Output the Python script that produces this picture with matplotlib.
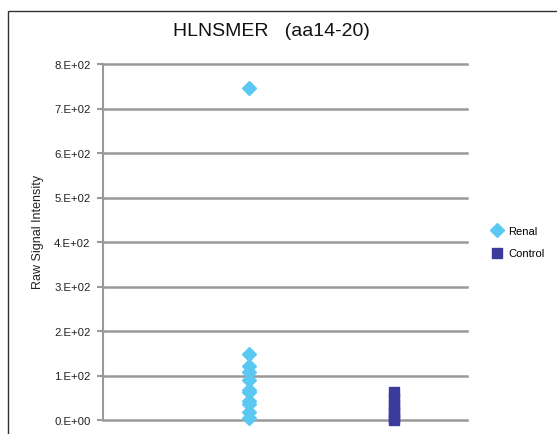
import matplotlib
matplotlib.use("Agg")
import matplotlib.pyplot as plt
from matplotlib.patches import Rectangle

plt.rcParams['font.family'] = ['Liberation Sans', 'DejaVu Sans']

title = "HLNSMER   (aa14-20)"
ylabel = "Raw Signal Intensity"
series_names = ["Renal", "Control"]
series_x = [1, 2]
renal_values = [745, 148, 122, 108, 90, 68, 62, 42, 35, 18, 5]
control_values = [62, 50, 35, 25, 15, 5, 0]
yticks = [0, 100, 200, 300, 400, 500, 600, 700, 800]
ytick_labels = ["0.E+00", "1.E+02", "2.E+02", "3.E+02", "4.E+02",
                "5.E+02", "6.E+02", "7.E+02", "8.E+02"]

W, H = 557, 435
fig = plt.figure(figsize=(W / 100, H / 100), dpi=100)
ax = fig.add_axes([103 / W, 1 - 421 / H, (467 - 103) / W, (421 - 65) / H])

grid_col = '#999999'
for t in yticks:
    ax.axhline(t, color=grid_col, lw=1.8, zorder=1, clip_on=False)

h1, = ax.plot([series_x[0]] * len(renal_values), renal_values, linestyle='none',
              marker='D', ms=6.8, color='#5BC8F2', mec='#5BC8F2', zorder=3,
              clip_on=False, label=series_names[0])
h2, = ax.plot([series_x[1]] * len(control_values), control_values, linestyle='none',
              marker='s', ms=7.6, color='#3B3B9C', mec='#3B3B9C', zorder=3,
              clip_on=False, label=series_names[1])

ax.set_xlim(0, 2.5)
ax.set_ylim(0, 800)
ax.set_xticks([])
ax.set_yticks(yticks)
ax.set_yticklabels(ytick_labels, fontsize=8.2, color='#222222')
ax.tick_params(axis='y', direction='out', length=4, width=1.5, color=grid_col, pad=5)
for s in ['top', 'right', 'bottom']:
    ax.spines[s].set_visible(False)
ax.spines['left'].set_color(grid_col)
ax.spines['left'].set_linewidth(1.5)
ax.set_facecolor('none')

fig.text(38 / W, 1 - 232 / H, ylabel, rotation=90, ha='center', va='center',
         fontsize=9, color='#222222')

fig.text(271 / W, 1 - 31 / H, title, ha='center', va='center', fontsize=14, color='#111111')

fig.legend(handles=[h1, h2], loc='center left', bbox_to_anchor=(486 / W, 1 - 243 / H),
           frameon=False, fontsize=8, handlelength=1.2, handletextpad=0.4,
           labelspacing=1.15, borderaxespad=0)

fig.add_artist(Rectangle((8 / W, -0.5), 2, (1 - 12 / H) + 0.5, fill=False,
                         transform=fig.transFigure, lw=1.0, edgecolor='#333333'))

fig.savefig("out.png", dpi=100)
